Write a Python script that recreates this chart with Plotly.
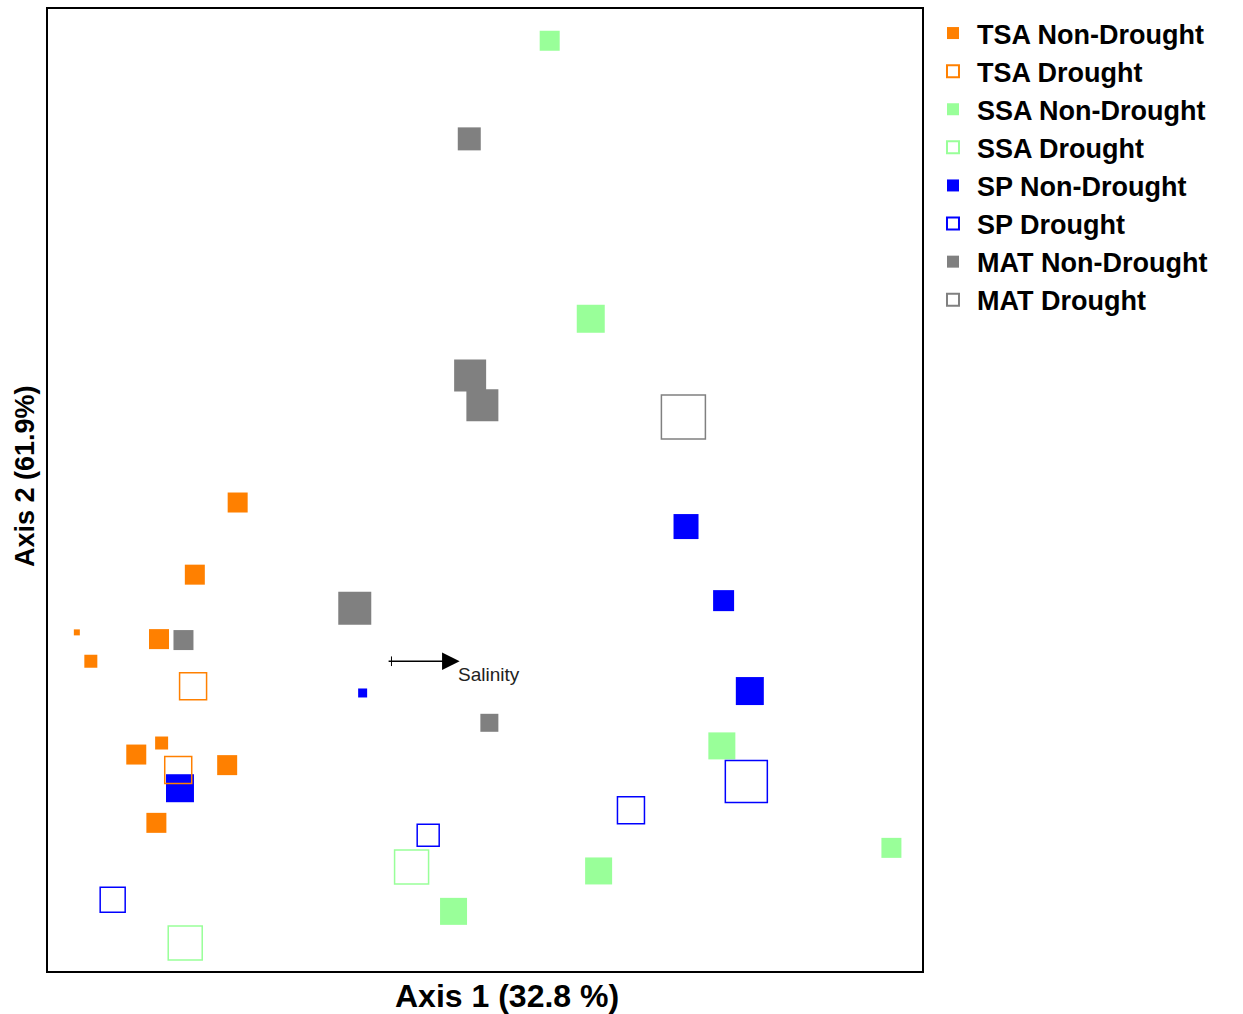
import plotly.graph_objects as go

# Ordination scores (Axis 1, Axis 2) and marker sizes per group
tsa_nd_x = [0.217, 0.168, 0.127, 0.033, 0.049, 0.101, 0.130, 0.205, 0.124]
tsa_nd_y = [0.487, 0.412, 0.345, 0.352, 0.322, 0.225, 0.237, 0.214, 0.154]
tsa_nd_s = [20, 20, 20, 6, 13, 20, 13, 20, 20]

tsa_d_x = [0.166, 0.149]
tsa_d_y = [0.296, 0.209]
tsa_d_s = [27, 27]

ssa_nd_x = [0.574, 0.621, 0.771, 0.630, 0.464, 0.965]
ssa_nd_y = [0.967, 0.678, 0.234, 0.104, 0.062, 0.128]
ssa_nd_s = [20, 28, 27, 27, 27, 20]

ssa_d_x = [0.416, 0.157]
ssa_d_y = [0.108, 0.029]
ssa_d_s = [34, 34]

sp_nd_x = [0.730, 0.773, 0.803, 0.151, 0.360]
sp_nd_y = [0.462, 0.385, 0.291, 0.190, 0.289]
sp_nd_s = [25, 21, 28, 28, 9]

sp_d_x = [0.074, 0.435, 0.667, 0.799]
sp_d_y = [0.074, 0.141, 0.167, 0.197]
sp_d_s = [25, 22, 27, 42]

mat_nd_x = [0.482, 0.483, 0.497, 0.351, 0.155, 0.505]
mat_nd_y = [0.865, 0.619, 0.588, 0.377, 0.344, 0.258]
mat_nd_s = [23, 32, 32, 33, 20, 18]

mat_d_x = [0.727]
mat_d_y = [0.576]
mat_d_s = [44]

# Environmental vector
vec_label = "Salinity"
vec_x0, vec_x1 = 0.393, 0.471
vec_y = 0.322

x_title = "Axis 1 (32.8 %)"
y_title = "Axis 2 (61.9%)"

ORANGE = "#FF8000"
GREEN = "#99FF99"
BLUE = "#0000FF"
GRAY = "#808080"

groups = [
    # name, x, y, sizes, color, open, legendrank
    ("SP Non-Drought", sp_nd_x, sp_nd_y, sp_nd_s, BLUE, False, 5),
    ("TSA Non-Drought", tsa_nd_x, tsa_nd_y, tsa_nd_s, ORANGE, False, 1),
    ("TSA Drought", tsa_d_x, tsa_d_y, tsa_d_s, ORANGE, True, 2),
    ("SSA Non-Drought", ssa_nd_x, ssa_nd_y, ssa_nd_s, GREEN, False, 3),
    ("SSA Drought", ssa_d_x, ssa_d_y, ssa_d_s, GREEN, True, 4),
    ("SP Drought", sp_d_x, sp_d_y, sp_d_s, BLUE, True, 6),
    ("MAT Non-Drought", mat_nd_x, mat_nd_y, mat_nd_s, GRAY, False, 7),
    ("MAT Drought", mat_d_x, mat_d_y, mat_d_s, GRAY, True, 8),
]

FONT = "Liberation Sans"

fig = go.Figure()
for name, xs, ys, ss, col, is_open, rank in groups:
    fig.add_trace(go.Scatter(
        x=xs, y=ys, mode="markers", name=name, legendrank=rank,
        marker=dict(
            symbol="square-open" if is_open else "square",
            size=ss, color=col, opacity=1,
            line=dict(width=1.5 if is_open else 0, color=col),
        ),
    ))

# vector arrow
fig.add_annotation(
    x=vec_x1, y=vec_y, ax=vec_x0 - 0.005, ay=vec_y, xref="x", yref="y",
    axref="x", ayref="y", text="", showarrow=True,
    arrowhead=2, arrowsize=2.2, arrowwidth=1.6, arrowcolor="black",
)
fig.add_shape(type="line", x0=vec_x0, x1=vec_x0, y0=vec_y - 0.005, y1=vec_y + 0.005,
              xref="x", yref="y", line=dict(color="black", width=1))
fig.add_annotation(
    x=vec_x1, y=vec_y, xref="x", yref="y", text=vec_label, showarrow=False,
    xanchor="left", yanchor="top", xshift=-4, yshift=-1,
    font=dict(size=19, color="#222222", family=FONT),
)

# axis titles
fig.add_annotation(
    x=0.525, y=-0.026, xref="paper", yref="paper", text="<b>" + x_title + "</b>",
    showarrow=False, xanchor="center", yanchor="middle",
    font=dict(size=32, family=FONT, color="black"),
)
fig.add_annotation(
    x=-0.0263, y=0.5145, xref="paper", yref="paper", text="<b>" + y_title + "</b>",
    showarrow=False, xanchor="center", yanchor="middle", textangle=-90,
    font=dict(size=27, family=FONT, color="black"),
)

fig.update_layout(
    width=1243, height=1014,
    margin=dict(l=48, r=321, t=7, b=43),
    plot_bgcolor="white", paper_bgcolor="white",
    font=dict(family=FONT, color="black"),
    showlegend=True,
    legend=dict(
        x=1.008, y=1.0, xanchor="left", yanchor="top",
        font=dict(size=27, family=FONT, color="black", weight="bold"),
        itemsizing="constant", tracegroupgap=0, bgcolor="rgba(0,0,0,0)",
        itemwidth=38,
    ),
    xaxis=dict(
        range=[0, 1], showgrid=False, zeroline=False, showticklabels=False,
        ticks="", showline=True, mirror=True, linecolor="black", linewidth=2,
    ),
    yaxis=dict(
        range=[0, 1], showgrid=False, zeroline=False, showticklabels=False,
        ticks="", showline=True, mirror=True, linecolor="black", linewidth=2,
    ),
)

fig.write_html("out.html")
